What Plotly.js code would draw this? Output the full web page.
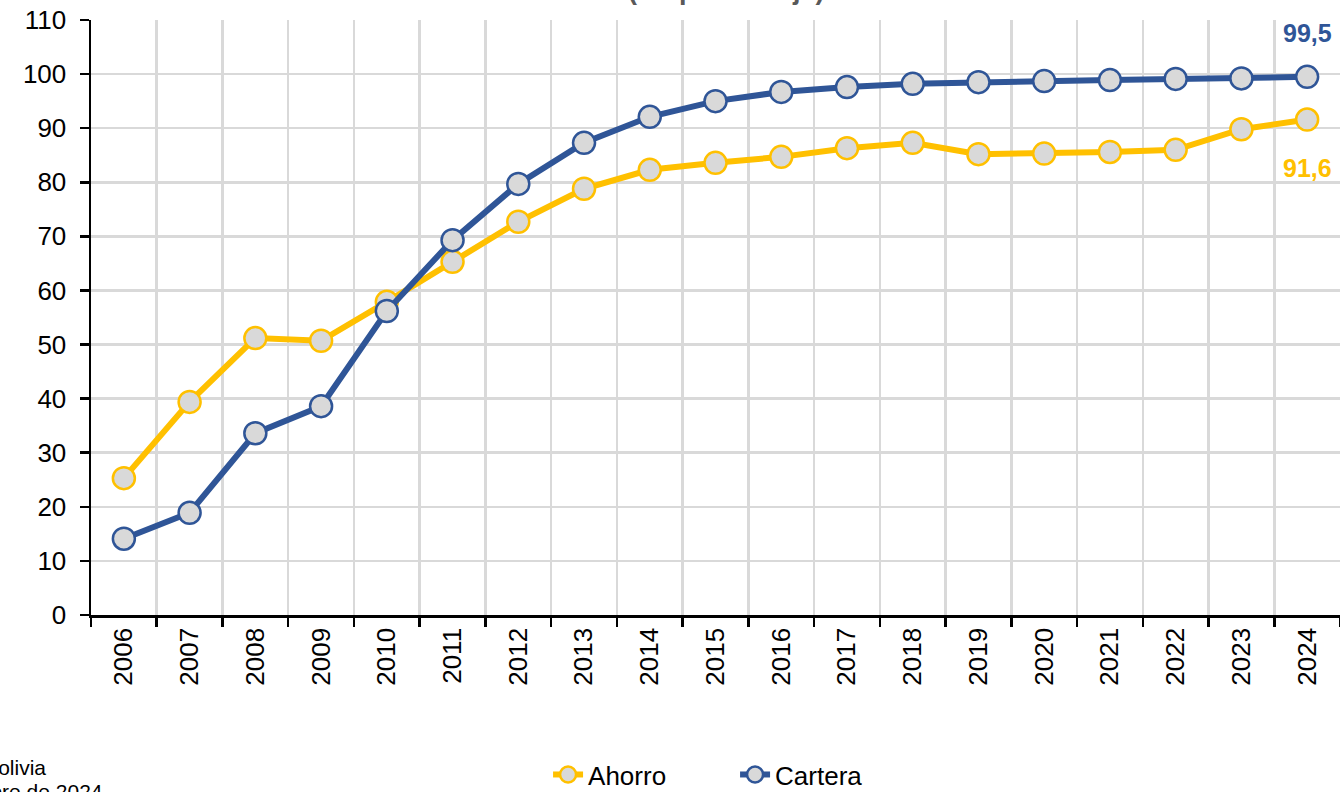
<!DOCTYPE html>
<html>
<head>
<meta charset="utf-8">
<script src="https://cdn.plot.ly/plotly-3.0.1.min.js"></script>
<style>html,body{margin:0;padding:0;background:#fff;overflow:hidden}</style>
</head>
<body>
<div id="chart" style="width:1340px;height:792px"></div>
<script>
const years = ['2006','2007','2008','2009','2010','2011','2012','2013','2014','2015','2016','2017','2018','2019','2020','2021','2022','2023','2024'];
const ahorro = [25.3, 39.4, 51.2, 50.7, 57.9, 65.3, 72.7, 78.8, 82.3, 83.6, 84.7, 86.3, 87.3, 85.2, 85.3, 85.6, 86.0, 89.8, 91.6];
const cartera = [14.1, 18.9, 33.6, 38.6, 56.2, 69.3, 79.7, 87.3, 92.1, 95.0, 96.7, 97.6, 98.2, 98.5, 98.7, 98.9, 99.1, 99.2, 99.5];
const yTicks = [0,10,20,30,40,50,60,70,80,90,100,110];

const yellow = '#FFC000';
const blue = '#2F5597';

const mk = (color) => ({symbol:'circle', size:22, color:'#D9D9D9', line:{color:color, width:2.5}});

const traces = [
  {x: years, y: ahorro, name: 'Ahorro', type:'scatter', mode:'lines+markers',
   line:{color:yellow, width:6}, marker: mk(yellow), cliponaxis:false},
  {x: years, y: cartera, name: 'Cartera', type:'scatter', mode:'lines+markers',
   line:{color:blue, width:6}, marker: mk(blue), cliponaxis:false}
];

const fmt = v => v.toFixed(1).replace('.', ',');
const last = years.length - 1;

const layout = {
  width:1340, height:792,
  margin:{l:91, r:0, t:20, b:177, autoexpand:false},
  paper_bgcolor:'#fff', plot_bgcolor:'#fff',
  font:{family:'Liberation Sans, Arial, sans-serif', color:'#000', size:26},
  showlegend:true,
  legend:{orientation:'h', xref:'container', yref:'container', x:0.409, xanchor:'left',
          y:0.022, yanchor:'middle', entrywidth:142, entrywidthmode:'pixels',
          font:{size:26, color:'#000'}, traceorder:'normal'},
  xaxis:{type:'category', tickson:'boundaries', showgrid:true, gridcolor:'#D9D9D9', gridwidth:2.5,
         ticks:'outside', ticklen:9, tickwidth:2.5, tickcolor:'#000',
         showline:true, linecolor:'#000', linewidth:2.5, automargin:false,
         tickangle:-90, tickfont:{size:26}, range:[-0.5, 18.5], fixedrange:true},
  yaxis:{range:[0,110], tickvals:yTicks, showgrid:true, gridcolor:'#D9D9D9', gridwidth:2.5,
         ticks:'outside', ticklen:9, tickwidth:2.5, tickcolor:'#000', ticklabelstandoff:8,
         showline:true, linecolor:'#000', linewidth:2.5, zeroline:false, automargin:false,
         tickfont:{size:26}, fixedrange:true},
  annotations:[
    {xref:'paper', yref:'paper', x:0.5085, y:1.05, text:'<b>(En porcentaje)</b>', showarrow:false,
     font:{size:27, color:'#595959'}, xanchor:'center', yanchor:'middle'},
    {xref:'x', yref:'y', x:last, y:cartera[last], text:'<b>'+fmt(cartera[last])+'</b>', showarrow:false,
     font:{size:25, color:blue}, xanchor:'center', yanchor:'bottom', yshift:28},
    {xref:'x', yref:'y', x:last, y:ahorro[last], text:'<b>'+fmt(ahorro[last])+'</b>', showarrow:false,
     font:{size:25, color:yellow}, xanchor:'center', yanchor:'top', yshift:-32},
    {xref:'paper', yref:'paper', x:-0.0344, y:-0.257, text:'Fuente: Banco Central de Bolivia', showarrow:false,
     font:{size:21, color:'#000'}, xanchor:'right', yanchor:'middle', align:'right'},
    {xref:'paper', yref:'paper', x:0.0112, y:-0.297, text:'Nota: datos a diciembre de 2024', showarrow:false,
     font:{size:21, color:'#000'}, xanchor:'right', yanchor:'middle', align:'right'}
  ]
};

Plotly.newPlot('chart', traces, layout, {displayModeBar:false, staticPlot:true});
</script>
</body>
</html>
